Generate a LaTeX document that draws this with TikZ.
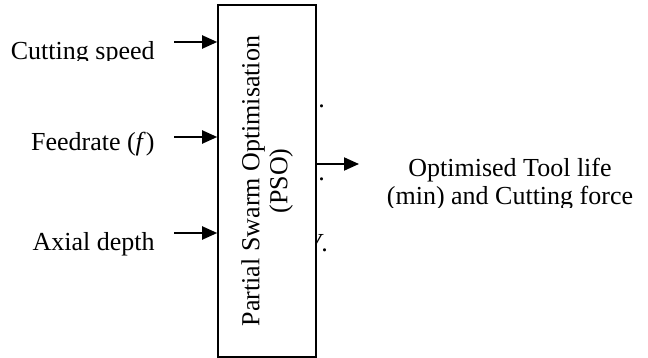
\documentclass[tikz,border=0pt]{standalone}
\usepackage{fontspec}
\setmainfont{Liberation Serif}
\usetikzlibrary{arrows.meta,positioning,calc}

\tikzset{
  inlabel/.style={anchor=base east, inner sep=0pt, font=\fontsize{13}{14}\selectfont},
  flow/.style={line width=1pt, -{Triangle[length=7.5pt,width=6.5pt]}},
}

\begin{document}
\begin{tikzpicture}[x=0.5pt, y=-0.5pt]
\useasboundingbox (0,0) rectangle (648,358);

% stray marks right of the box
\node[anchor=base west, inner sep=0pt, font=\fontsize{13}{14}\selectfont] (dotA) at (318,108) {.};
\node[anchor=base west, inner sep=0pt, font=\fontsize{13}{14}\selectfont] (dotB) at (318,181) {.};
\node[anchor=base west, inner sep=0pt, font=\fontsize{13}{14}\selectfont] (dotC) at (305,251) {\textit{V}.};

% optimiser block
\node[draw, fill=white, line width=0.8pt, minimum width=49pt, minimum height=176pt, inner sep=0pt] (pso) at (267,181) {};
\node[rotate=90, align=center, inner sep=0pt, font=\fontsize{13}{14}\selectfont] (psotext) at (pso.center) {Partial Swarm Optimisation\\(PSO)};

% inputs (first label is cut at its baseline)
\begin{scope}
\clip (0,0) rectangle (170,61);
\node[inlabel] (speed) at (155,60) {Cutting speed};
\end{scope}
\node[inlabel] (feed) at (155,150) {Feedrate (\textit{f})};
\node[inlabel] (depth) at (155,250) {Axial depth};

\coordinate (inA) at (174,42);
\coordinate (inB) at (174,137);
\coordinate (inC) at (174,233);
\draw[flow] (inA) -- (inA -| pso.west);
\draw[flow] (inB) -- (inB -| pso.west);
\draw[flow] (inC) -- (inC -| pso.west);

% output
\begin{scope}
\clip (370,140) rectangle (648,207);
\node[align=center, inner sep=0pt, font=\fontsize{13}{14}\selectfont] (result) at (510,184) {Optimised Tool life\\(min) and Cutting force};
\end{scope}
\coordinate (outA) at (359,164);
\draw[flow] (outA -| pso.east) -- (outA);

\end{tikzpicture}
\end{document}
